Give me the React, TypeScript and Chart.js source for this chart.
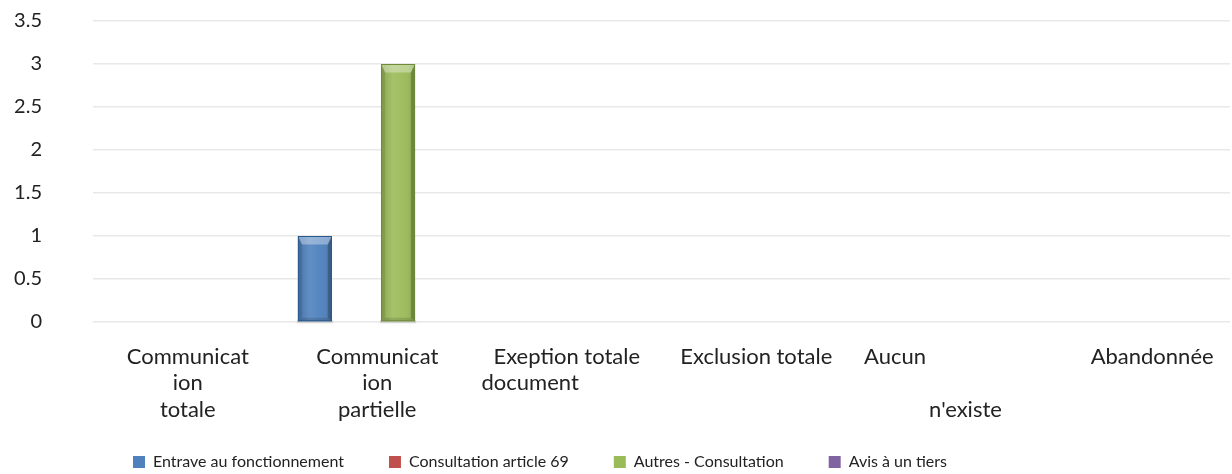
import React, { useEffect, useRef } from "react";
import { Chart, registerables } from "chart.js";

Chart.register(...registerables);

// ---- data ----
const categories: string[][] = [
  ["Communicat", "ion", "totale"],
  ["Communicat", "ion", "partielle"],
  ["Exeption totale", "document             "],
  ["Exclusion totale"],
  ["Aucun                  ", "", "       n'existe"],
  ["      Abandonnée"],
];
const seriesNames = [
  "Entrave au fonctionnement",
  "Consultation article 69",
  "Autres - Consultation",
  "Avis à un tiers",
];
const entrave = [0, 1, 0, 0, 0, 0];
const consultation69 = [0, 0, 0, 0, 0, 0];
const autres = [0, 3, 0, 0, 0, 0];
const avis = [0, 0, 0, 0, 0, 0];
const yMin = 0;
const yMax = 3.5;
const yStep = 0.5;

const baseColors = ["#4F81BD", "#C0504D", "#9BBB59", "#8064A2"];
const darkColors = ["#2B5A8E", "#8C3533", "#6E8B3A", "#5A4478"];

const FONT = "Lato, 'Open Sans', sans-serif";

const bevelPlugin = {
  id: "bevel",
  beforeDatasetsDraw(chart: any) {
    const ctx = chart.ctx;
    chart.data.datasets.forEach((_ds: any, di: number) => {
      const meta = chart.getDatasetMeta(di);
      meta.data.forEach((el: any) => {
        const h = Math.abs(el.base - el.y);
        if (h < 1) return;
        const l = el.x - el.width / 2;
        ctx.save();
        ctx.fillStyle = "rgba(0,0,0,0.12)";
        ctx.shadowColor = "rgba(0,0,0,0.35)";
        ctx.shadowBlur = 5;
        ctx.fillRect(l - 1, el.base - 1, el.width + 2, 3);
        ctx.restore();
      });
    });
  },
  afterDatasetsDraw(chart: any) {
    const ctx = chart.ctx;
    chart.data.datasets.forEach((_ds: any, di: number) => {
      const meta = chart.getDatasetMeta(di);
      meta.data.forEach((el: any) => {
        const top = Math.min(el.y, el.base);
        const bottom = Math.max(el.y, el.base);
        const h = bottom - top;
        if (h < 1) return;
        const w = el.width;
        const l = el.x - w / 2;
        const r = el.x + w / 2;
        const b = Math.min(w * 0.25, h / 2);
        ctx.save();
        const g = ctx.createLinearGradient(l, 0, r, 0);
        g.addColorStop(0, "rgba(0,0,0,0.10)");
        g.addColorStop(0.35, "rgba(255,255,255,0.10)");
        g.addColorStop(0.65, "rgba(255,255,255,0.04)");
        g.addColorStop(1, "rgba(0,0,0,0.12)");
        ctx.fillStyle = g;
        ctx.fillRect(l, top, w, h);
        // left strip
        ctx.fillStyle = "rgba(0,0,0,0.10)";
        ctx.beginPath();
        ctx.moveTo(l, top);
        ctx.lineTo(l + b * 0.5, top + b);
        ctx.lineTo(l + b * 0.5, bottom - b * 0.4);
        ctx.lineTo(l, bottom);
        ctx.closePath();
        ctx.fill();
        // right strip
        ctx.fillStyle = "rgba(0,0,0,0.22)";
        ctx.beginPath();
        ctx.moveTo(r, top);
        ctx.lineTo(r - b * 0.5, top + b);
        ctx.lineTo(r - b * 0.5, bottom - b * 0.4);
        ctx.lineTo(r, bottom);
        ctx.closePath();
        ctx.fill();
        // top bevel
        ctx.fillStyle = "rgba(255,255,255,0.35)";
        ctx.beginPath();
        ctx.moveTo(l, top);
        ctx.lineTo(r, top);
        ctx.lineTo(r - b * 0.5, top + b);
        ctx.lineTo(l + b * 0.5, top + b);
        ctx.closePath();
        ctx.fill();
        // bottom bevel
        ctx.fillStyle = "rgba(0,0,0,0.12)";
        ctx.beginPath();
        ctx.moveTo(l, bottom);
        ctx.lineTo(r, bottom);
        ctx.lineTo(r - b * 0.5, bottom - b * 0.4);
        ctx.lineTo(l + b * 0.5, bottom - b * 0.4);
        ctx.closePath();
        ctx.fill();
        ctx.strokeStyle = darkColors[di];
        ctx.lineWidth = 1;
        ctx.strokeRect(l + 0.5, top + 0.5, w - 1, h - 1);
        ctx.restore();
      });
    });
  },
};

const LEGEND_SHIFT_X = -75;
const LEGEND_RAISE = 25;
const legendShiftPlugin = {
  id: "legendShift",
  afterLayout(chart: any) {
    const lg = chart.legend;
    if (lg) {
      lg.left += LEGEND_SHIFT_X;
      lg.right += LEGEND_SHIFT_X;
      lg.top -= LEGEND_RAISE;
    }
  },
};

export default function App() {
  const ref = useRef<HTMLCanvasElement | null>(null);

  useEffect(() => {
    document.body.style.margin = "0";
    const canvas = ref.current;
    if (!canvas) return;
    const seriesData = [entrave, consultation69, autres, avis];
    const chart = new Chart(canvas, {
      type: "bar",
      data: {
        labels: categories,
        datasets: seriesNames.map((name, i) => ({
          label: name,
          data: seriesData[i],
          backgroundColor: baseColors[i],
          borderColor: darkColors[i],
          borderWidth: 0,
          categoryPercentage: 0.877,
          barPercentage: 0.82,
        })),
      },
      options: {
        responsive: false,
        animation: false,
        devicePixelRatio: 1,
        layout: {
          padding: { top: 21, right: 2, left: 0, bottom: 0 },
        },
        plugins: {
          tooltip: { enabled: false },
          legend: {
            position: "bottom",
            maxHeight: 40,
            labels: {
              font: { family: FONT, size: 16 },
              color: "#222",
              boxWidth: 12,
              boxHeight: 12,
              padding: 45,
            },
          },
        },
        scales: {
          x: {
            grid: { display: false },
            border: { display: false },
            ticks: {
              font: { family: FONT, size: 22, lineHeight: 1.22 },
              color: "#222",
              padding: 13,
              maxRotation: 0,
              autoSkip: false,
            },
            afterFit(scale: any) {
              scale.height = 112;
            },
          },
          y: {
            min: yMin,
            max: yMax,
            border: { display: false },
            grid: { color: "#E8E8E8", lineWidth: 1.5, drawTicks: false },
            ticks: {
              stepSize: yStep,
              font: { family: FONT, size: 20 },
              color: "#222",
              padding: 51,
              callback: (v: any) => String(Number(v)),
            },
            afterFit(scale: any) {
              scale.width = 93;
              scale.paddingTop = 10;
              scale.paddingBottom = 10;
            },
          },
        },
      },
      plugins: [bevelPlugin, legendShiftPlugin],
    });
    return () => chart.destroy();
  }, []);

  return (
    <div style={{ width: 1232, height: 474 }}>
      <canvas ref={ref} width={1232} height={474} />
    </div>
  );
}
